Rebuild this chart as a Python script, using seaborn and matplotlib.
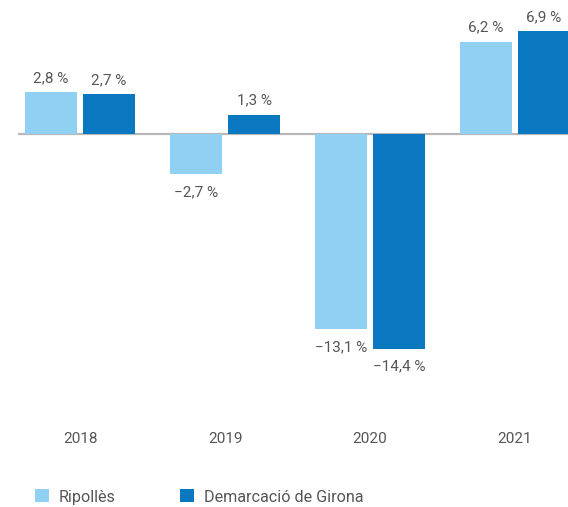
import matplotlib
matplotlib.use("Agg")
import matplotlib.pyplot as plt
import matplotlib.transforms as mtransforms
import pandas as pd
import seaborn as sns

# ── Data ─────────────────────────────────────────────────────────────────────
YEARS    = ["2018", "2019", "2020", "2021"]
RIPOLLES = [2.8, -2.7, -13.1, 6.2]
GIRONA   = [2.7, 1.3, -14.4, 6.9]
SERIES   = ["Ripollès", "Demarcació de Girona"]
COLORS   = ["#8fd0f3", "#0a78c1"]

TEXT_COLOR = "#555555"


def fmt(v):
    return f"{v:.1f}".replace(".", ",").replace("-", "\u2212") + " %"


df = pd.DataFrame({
    "year":   YEARS * 2,
    "value":  RIPOLLES + GIRONA,
    "series": [SERIES[0]] * len(YEARS) + [SERIES[1]] * len(YEARS),
})

sns.set_theme(style="white")
plt.rcParams["font.family"] = ["Roboto", "DejaVu Sans"]

fig = plt.figure(figsize=(5.68, 5.07), dpi=100)
ax = fig.add_axes([18 / 568, 107 / 507, 550 / 568, 390 / 507])

sns.barplot(data=df, x="year", y="value", hue="series", hue_order=SERIES,
            palette=COLORS, width=0.8, gap=0.1, saturation=1, linewidth=0,
            ax=ax, legend=True)

ax.set_xlim(-0.428, 3.366)
ax.set_ylim(-17.85, 8.32)

# value labels: above positive bars, below negative ones
for container, vals in zip(ax.containers, [RIPOLLES, GIRONA]):
    for bar, v in zip(container, vals):
        ax.annotate(fmt(v), (bar.get_x() + bar.get_width() / 2, v),
                    xytext=(0, 5 if v >= 0 else -8), textcoords="offset points",
                    ha="center", va="bottom" if v >= 0 else "top",
                    fontsize=11, color=TEXT_COLOR)

ax.axhline(0, color="#b8b8b8", lw=1.6, zorder=0.5)

ax.set_xticks([])
ax.set_yticks([])
ax.set_xlabel("")
ax.set_ylabel("")
sns.despine(ax=ax, left=True, bottom=True)

# year labels under the plot area
trans = mtransforms.blended_transform_factory(ax.transData, fig.transFigure)
for i, y in enumerate(YEARS):
    ax.text(i, 1 - 439 / 507, y, transform=trans, ha="center", va="center",
            fontsize=11, color=TEXT_COLOR)

sns.move_legend(ax, "center left", bbox_to_anchor=(27 / 568, 1 - 497 / 507),
                bbox_transform=fig.transFigure, ncol=2, frameon=False,
                title=None, fontsize=11.6, handlelength=0.85, handleheight=0.85,
                handletextpad=0.62, columnspacing=4.0, borderpad=0,
                labelcolor=TEXT_COLOR)

fig.savefig("out.png", dpi=100)
